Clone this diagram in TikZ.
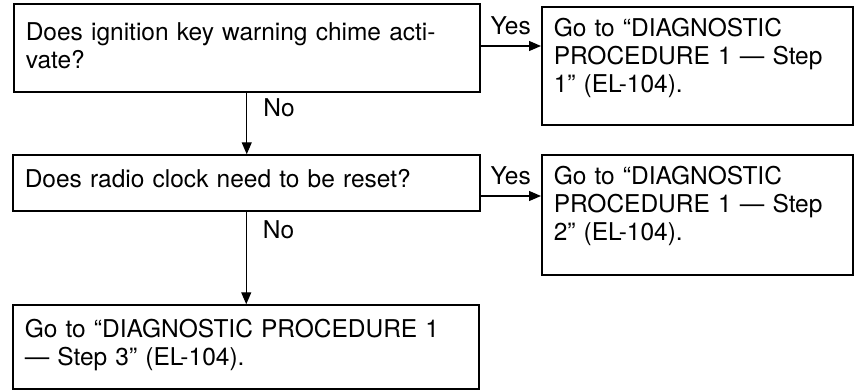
\documentclass[tikz,border=0pt]{standalone}
\usepackage{fontspec}
\setmainfont{TeX Gyre Heros}
\usetikzlibrary{arrows.meta}
\begin{document}
\begin{tikzpicture}[x=1pt, y=-1pt, >={Triangle[length=12pt, width=10pt]},
    every node/.style={font=\fontsize{24.5}{28}\selectfont},
    box/.style={draw, line width=1.5pt, inner xsep=12pt, inner ysep=0pt,
      align=left, anchor=base west},
    flow/.style={->, line width=1.3pt},
    lbl/.style={inner sep=0pt}]
  \useasboundingbox (0,0) rectangle (855,391);
  % questions on the left, answers on the right
  \node[box, text width=442pt, text height=36.5pt, text depth=51.5pt] (q1) at (13,40.5)
    {Does ignition key warning chime acti-\\vate?};
  \node[box, text width=287pt, text height=29pt, text depth=89pt] (a1) at (541,36)
    {Go to “DIAGNOSTIC\\PROCEDURE 1 — Step\\1” (EL-104).};
  \node[box, text width=443pt, text height=32pt, text depth=24pt] (q2) at (12,187)
    {Does radio clock need to be reset?};
  \node[box, text width=287pt, text height=29pt, text depth=91pt] (a2) at (541,184)
    {Go to “DIAGNOSTIC\\PROCEDURE 1 — Step\\2” (EL-104).};
  \node[box, text width=442pt, text height=32pt, text depth=52pt] (a3) at (12,337)
    {Go to “DIAGNOSTIC PROCEDURE 1\\— Step 3” (EL-104).};
  \draw[flow] ([yshift=2pt]q1.east) -- node[lbl, above=10pt] {Yes} ([yshift=2pt]q1.east -| a1.west);
  \draw[flow] (q1.south) -- node[lbl, anchor=west, pos=0.25, xshift=16pt] {No} (q1.south |- q2.north);
  \draw[flow] ([yshift=-13pt]q2.east) -- node[lbl, above=10pt] {Yes} ([yshift=-13pt]q2.east -| a2.west);
  \draw[flow] (q2.south) -- node[lbl, anchor=west, pos=0.2, xshift=16pt] {No} (q2.south |- a3.north);
\end{tikzpicture}
\end{document}
